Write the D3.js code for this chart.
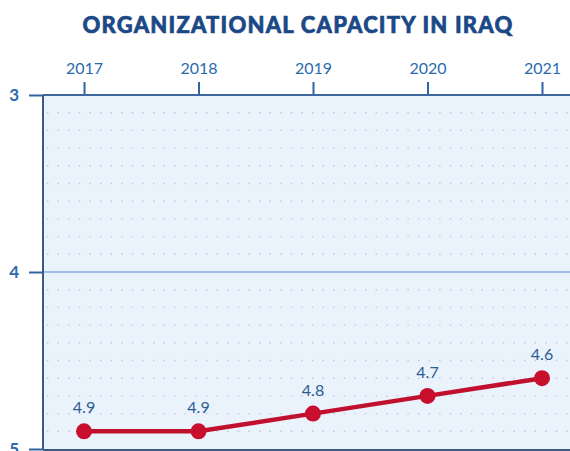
<!DOCTYPE html>
<html><head><meta charset="utf-8">
<script src="https://cdn.jsdelivr.net/npm/d3@7"></script>
<style>body{margin:0;background:#fff}svg{display:block}</style>
</head><body>
<svg id="c" width="570" height="451"></svg>
<script>
const years = ["2017","2018","2019","2020","2021"];
const values = [4.9, 4.9, 4.8, 4.7, 4.6];
const valueLabels = ["4.9","4.9","4.8","4.7","4.6"];
const yTicks = [3, 4, 5];
const title = "ORGANIZATIONAL CAPACITY IN IRAQ";

(function(){
const svg = d3.select("#c");
const pL = 43, pT = 95, pR = 570, pB = 449;
const x = d3.scalePoint().domain(years).range([84, 542]);
const y = d3.scaleLinear().domain([3, 5]).range([pT, pB]);

svg.append("rect").attr("x", pL).attr("y", pT).attr("width", pR - pL).attr("height", pB - pT).attr("fill", "#eaf2fb");

// dotted grid
const gridVals = d3.range(31, 50).map(d => d / 10).filter(d => Math.abs(d - 4) > 1e-6);
svg.append("g").selectAll("line").data(gridVals).join("line")
  .attr("x1", pL + 4).attr("x2", pR).attr("y1", d => y(d)).attr("y2", d => y(d))
  .attr("stroke", "#b9c9da").attr("stroke-width", 1.4).attr("stroke-dasharray", "1.4,9.2");

// gridline at 4
svg.append("line").attr("x1", pL).attr("x2", pR).attr("y1", y(4)).attr("y2", y(4))
  .attr("stroke", "#9dc1e4").attr("stroke-width", 2);

// top axis
const xAxis = d3.axisTop(x).tickSize(13).tickPadding(8);
const gx = svg.append("g").attr("transform", `translate(0,${pT})`).call(xAxis);
gx.select(".domain").remove();
gx.selectAll(".tick line").attr("stroke", "#2f64a0").attr("stroke-width", 2);
gx.selectAll(".tick text").attr("fill", "#2a6aad").style("font-family", "Lato, sans-serif").style("font-size", "16px");
svg.append("line").attr("x1", pL).attr("x2", pR).attr("y1", pT).attr("y2", pT).attr("stroke", "#3d6798").attr("stroke-width", 2);

// left axis
const yAxis = d3.axisLeft(y).tickValues(yTicks).tickSize(14).tickPadding(10).tickFormat(d3.format("d"));
const gy = svg.append("g").attr("transform", `translate(${pL},0)`).call(yAxis);
gy.select(".domain").remove();
gy.selectAll(".tick line").attr("stroke", "#2f64a0").attr("stroke-width", 2);
gy.selectAll(".tick text").attr("fill", "#2a6aad").style("font-family", "Lato, sans-serif").style("font-size", "17px").style("font-weight", "700");
svg.append("line").attr("x1", pL).attr("x2", pL).attr("y1", pT).attr("y2", pB).attr("stroke", "#3d5a7e").attr("stroke-width", 2);
svg.append("line").attr("x1", pL).attr("x2", pR).attr("y1", pB + 1).attr("y2", pB + 1).attr("stroke", "#3d5a7e").attr("stroke-width", 2);

// line
const pts = years.map((yr, i) => ({yr, v: values[i], lab: valueLabels[i]}));
svg.append("path").datum(pts)
  .attr("d", d3.line().x(d => x(d.yr)).y(d => y(d.v)))
  .attr("fill", "none").attr("stroke", "#c0102e").attr("stroke-width", 4.5);
svg.append("g").selectAll("circle").data(pts).join("circle")
  .attr("cx", d => x(d.yr)).attr("cy", d => y(d.v)).attr("r", 8).attr("fill", "#c8102e");
svg.append("g").selectAll("text").data(pts).join("text")
  .attr("x", d => x(d.yr)).attr("y", d => y(d.v) - 18).attr("text-anchor", "middle")
  .attr("fill", "#2a5c92").style("font-family", "Lato, sans-serif").style("font-size", "16px")
  .text(d => d.lab);

// title
svg.append("text").attr("x", 298).attr("y", 33).attr("text-anchor", "middle")
  .attr("fill", "#1b4886").style("font-family", "Lato, sans-serif").style("font-weight", "900")
  .style("font-size", "22px").style("letter-spacing", "1.2px")
  .style("stroke", "#1b4886").style("stroke-width", "0.6px").text(title);
})();
</script>
</body></html>
